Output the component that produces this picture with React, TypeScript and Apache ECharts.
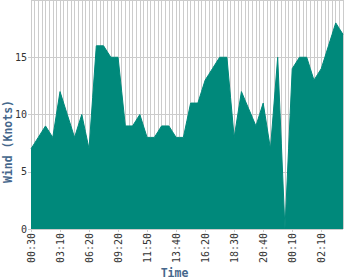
import React, { useEffect, useRef } from "react";
import * as echarts from "echarts";

const categories: string[] = [
  "00:30", "00:50", "01:10", "01:30", "01:50", "02:10", "02:30", "02:50",
  "03:10", "03:30", "03:50", "04:20", "04:40", "05:00", "05:20", "05:50",
  "06:20", "06:40", "07:00", "07:30", "07:50", "08:10", "08:30", "09:00",
  "09:20", "09:40", "10:00", "10:20", "10:40", "11:00", "11:20", "11:30",
  "11:50", "12:00", "12:20", "12:30", "12:50", "13:00", "13:10", "13:30",
  "13:40", "14:00", "14:20", "14:40", "15:00", "15:20", "15:40", "16:00",
  "16:20", "16:40", "16:50", "17:10", "17:20", "17:40", "17:50", "18:10",
  "18:30", "18:50", "19:00", "19:20", "19:30", "19:50", "20:00", "20:20",
  "20:40", "21:10", "21:40", "22:00", "22:30", "22:50", "23:20", "23:40",
  "00:10", "00:20", "00:40", "00:50", "01:10", "01:20", "01:40", "01:50",
  "02:10", "02:30", "02:40", "03:00", "03:10", "03:30", "03:40",
];

const windKnots: number[] = [
  7, 7.5, 8, 8.5, 9, 8.5, 8, 10, 12, 11, 10, 9, 8, 9, 10, 8.5,
  7, 11.5, 16, 16, 16, 15.5, 15, 15, 15, 12, 9, 9, 9, 9.5, 10, 9,
  8, 8, 8, 8.5, 9, 9, 9, 8.5, 8, 8, 8, 9.5, 11, 11, 11, 12,
  13, 13.5, 14, 14.5, 15, 15, 15, 11.5, 8, 10, 12, 11.25, 10.5, 9.75,
  9, 10, 11, 9, 7, 11, 15, 7.5, 0, 7, 14, 14.5, 15, 15, 15, 14,
  13, 13.5, 14, 15, 16, 17, 18, 17.5, 17,
];

const yTicks = { min: 0, max: 20, interval: 5 };

const MONO = "'DejaVu Sans Mono', monospace";
const NAME_COLOR = "#45678c";
const FILL = "#00897b";

export default function App() {
  const ref = useRef<HTMLDivElement>(null);
  useEffect(() => {
    if (!ref.current) return;
    const chart = echarts.init(ref.current, undefined, { renderer: "svg" });
    chart.setOption({
      animation: false,
      grid: { left: 31, right: 7, top: 0, bottom: 51 },
      xAxis: {
        type: "category",
        data: categories,
        boundaryGap: false,
        axisLine: { show: false },
        axisTick: { show: true, interval: 7, length: 3, lineStyle: { color: "#cccccc" } },
        axisLabel: {
          interval: 7,
          rotate: 90,
          margin: 4,
          fontFamily: MONO,
          fontSize: 10,
          color: "#333333",
        },
        splitLine: { show: true, interval: 0, lineStyle: { color: "#cccccc", width: 1 } },
      },
      yAxis: {
        type: "value",
        min: yTicks.min,
        max: yTicks.max,
        interval: yTicks.interval,
        axisLine: { show: false },
        axisTick: { show: true, length: 3, lineStyle: { color: "#cccccc" } },
        axisLabel: {
          showMaxLabel: false,
          margin: 4,
          fontFamily: MONO,
          fontSize: 10,
          color: "#333333",
        },
        splitLine: { show: true, lineStyle: { color: "#cccccc", width: 1 } },
      },
      series: [
        {
          type: "line",
          data: windKnots,
          symbol: "none",
          lineStyle: { color: FILL, width: 1 },
          itemStyle: { color: FILL },
          areaStyle: { color: FILL, opacity: 1 },
        },
      ],
      graphic: [
        {
          type: "text",
          x: 7.5,
          y: 141.5,
          rotation: Math.PI / 2,
          style: {
            text: "Wind (Knots)",
            fontFamily: MONO,
            fontWeight: "bold",
            fontSize: 11.5,
            fill: NAME_COLOR,
            align: "center",
            verticalAlign: "middle",
          },
        },
        {
          type: "text",
          x: 174.5,
          y: 272.5,
          style: {
            text: "Time",
            fontFamily: MONO,
            fontWeight: "bold",
            fontSize: 11.5,
            fill: NAME_COLOR,
            align: "center",
            verticalAlign: "middle",
          },
        },
      ],
    });
    return () => chart.dispose();
  }, []);
  return <div ref={ref} style={{ width: 350, height: 280, position: "absolute", left: 0, top: 0 }} />;
}
